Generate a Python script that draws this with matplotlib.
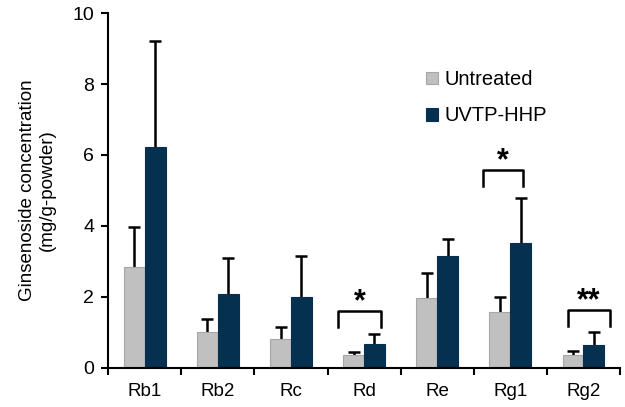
import matplotlib.pyplot as plt
import numpy as np

plt.rcParams['font.family'] = ['Liberation Sans', 'DejaVu Sans']

# %% Data
categories = ['Rb1', 'Rb2', 'Rc', 'Rd', 'Re', 'Rg1', 'Rg2']
untreated = [2.85, 1.01, 0.82, 0.37, 1.97, 1.58, 0.37]
untreated_err = [1.12, 0.36, 0.34, 0.08, 0.71, 0.42, 0.11]
uvtp = [6.23, 2.08, 2.0, 0.68, 3.15, 3.52, 0.65]
uvtp_err = [2.99, 1.02, 1.16, 0.27, 0.49, 1.28, 0.37]

# significance brackets: category index, left/right offset, top, leg bottom, label
sig_idx = [3, 5, 6]
sig_left = [-0.35, -0.38, -0.21]
sig_right = [0.23, 0.18, 0.36]
sig_top = [1.6, 5.58, 1.63]
sig_low = [1.16, 5.13, 1.18]
sig_text = ['*', '*', '**']

# %% Plot
fig = plt.figure(figsize=(6.25, 4.07), dpi=100)
ax = fig.add_axes([0.173, 0.096, 0.819, 0.872])

x = np.arange(len(categories))
w = 0.285
ax.bar(x - w/2, untreated, w, color='#c0c0c0', edgecolor='#a6a6a6', linewidth=0.8,
       label='Untreated', zorder=2)
ax.bar(x + w/2, uvtp, w, color='#05304f', edgecolor='#05304f', linewidth=0.8,
       label='UVTP-HHP', zorder=2)

# one-sided error bars (upper only)
for xs, vals, errs in [(x - w/2, untreated, untreated_err), (x + w/2, uvtp, uvtp_err)]:
    tops = np.array(vals) + np.array(errs)
    ax.vlines(xs, vals, tops, color='black', linewidth=1.8, zorder=1)
    ax.plot(xs, tops, linestyle='none', marker='_', markersize=8, mew=1.8,
            color='black', zorder=1)

for i, l, r, t, b, s in zip(sig_idx, sig_left, sig_right, sig_top, sig_low, sig_text):
    ax.plot([i + l, i + l, i + r, i + r], [b, t, t, b], color='black', linewidth=1.8)
    ax.text(i + (l + r) / 2, t + 0.03, s, ha='center', va='baseline', fontsize=22,
            fontweight='bold')

ax.set_xlim(-0.5, len(categories) - 0.5)
ax.set_ylim(0, 10)
ax.set_yticks([0, 2, 4, 6, 8, 10])
ax.set_xticks(x)
ax.set_xticklabels(categories, fontsize=13.5)
ax.set_xticks(np.arange(len(categories) + 1) - 0.5, minor=True)
ax.tick_params(axis='x', which='major', length=0, pad=11)
ax.tick_params(axis='x', which='minor', length=5, width=1.5, direction='out')
ax.tick_params(axis='y', labelsize=14, length=5, width=1.5, direction='out', pad=5)
ax.spines['top'].set_visible(False)
ax.spines['right'].set_visible(False)
ax.spines['left'].set_linewidth(1.5)
ax.spines['bottom'].set_linewidth(1.5)
ax.set_ylabel('Ginsenoside concentration\n(mg/g-powder)', fontsize=13.5, labelpad=12,
              linespacing=1.2)

ax.legend(loc='upper left', bbox_to_anchor=(0.586, 0.89), frameon=False, fontsize=14.5,
          handlelength=0.6, handleheight=0.6, handletextpad=0.3, labelspacing=0.85)

fig.savefig('out.png', dpi=100)
